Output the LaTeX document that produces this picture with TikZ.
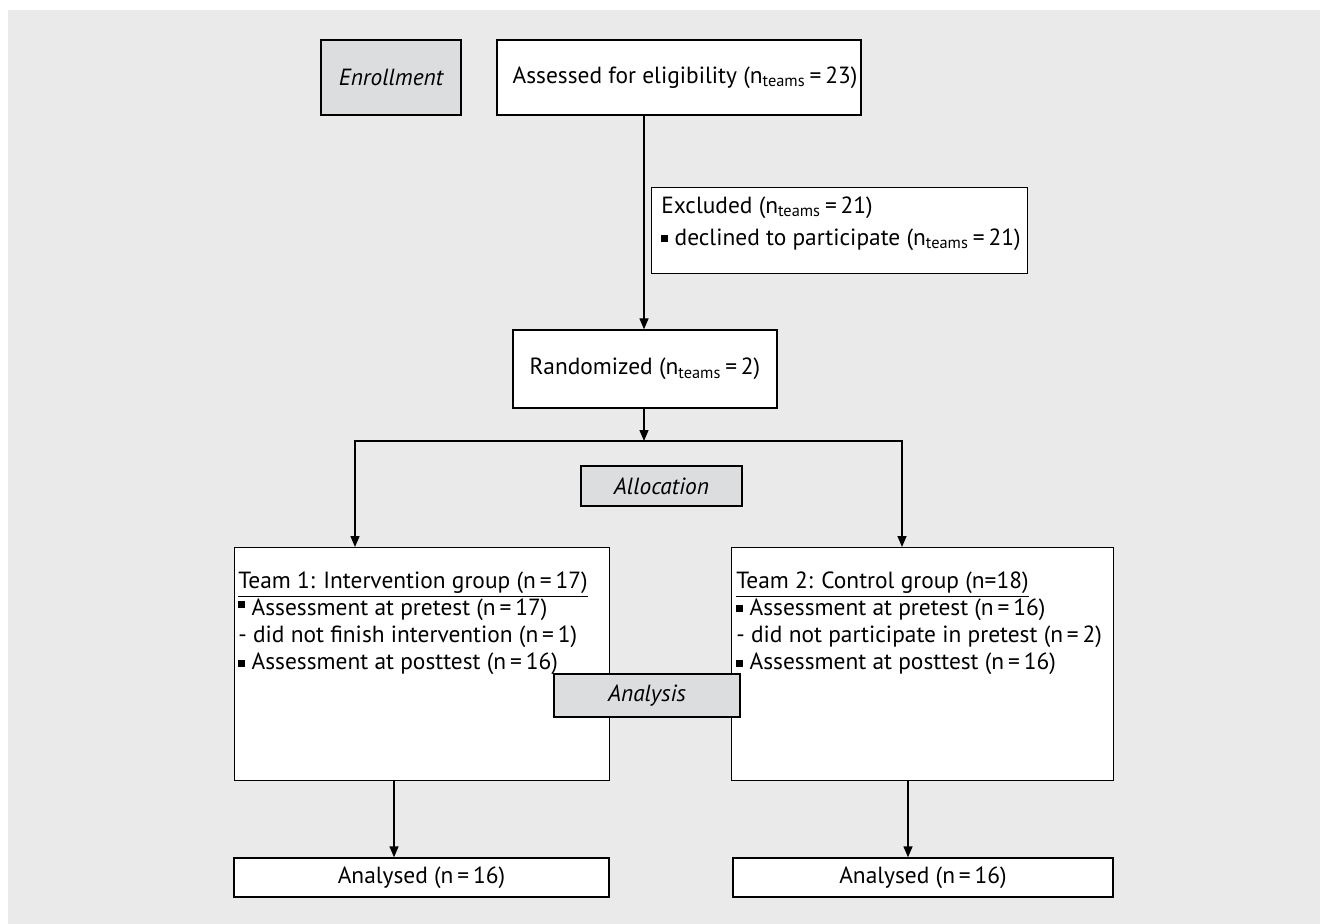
\documentclass[tikz,border=0pt]{standalone}
\usepackage{fontspec}
\setmainfont{PT Sans}
\usetikzlibrary{arrows.meta}

\definecolor{bggrey}{RGB}{234,234,234}
\definecolor{tagfill}{RGB}{220,221,223}

\newcommand{\nt}{n\textsubscript{teams}}
\newcommand{\sqb}{\rule[0.25ex]{0.3em}{0.3em}}
\newcommand{\sqbhi}{\rule[0.65ex]{0.3em}{0.3em}}
\newcommand{\flowfont}{\fontsize{11.7}{13.6}\selectfont}

\tikzset{
  box/.style={draw, line width=0.7pt, fill=white, inner sep=0pt},
  tagbox/.style={box, fill=tagfill, font=\flowfont\itshape},
  txt/.style={inner sep=0pt, align=left, anchor=north west},
  arr/.style={-{Triangle[width=4.5pt,length=5.5pt]}, line width=0.7pt},
}

\begin{document}
\begin{tikzpicture}[x=0.5pt,y=-0.5pt,font=\flowfont]
\useasboundingbox (0,0) rectangle (1320,924);
\fill[bggrey] (8,10) rectangle (1320,924);

% enrollment row
\node[tagbox, minimum width=70pt, minimum height=37.5pt] (enrol) at (391,77.5) {Enrollment};
\node[box, minimum width=182pt, minimum height=37.5pt] (assess) at (679,77.5) {\hspace{6pt}Assessed for eligibility (\nt\,=\,23)};

% excluded
\node[box, minimum width=188pt, minimum height=43pt, anchor=north west] (excl) at (651,187) {};
\node[txt] (excltxt) at (661,196) {Excluded (\nt\,=\,21)\\[2.5pt] \sqb\ declined to participate (\nt\,=\,21)};

% randomized + allocation
\node[box, minimum width=132pt, minimum height=39pt] (rand) at (645,369) {Randomized (\nt\,=\,2)};
\coordinate (split) at (644,441);
\coordinate (lft) at (355,441);
\coordinate (rgt) at (902,441);
\node[tagbox, minimum width=80.5pt, minimum height=20pt] (alloc) at (661.5,486) {Allocation};

% groups
\node[box, minimum width=187.5pt, minimum height=116.5pt, anchor=north west] (team1) at (234,547) {};
\node[box, minimum width=191pt, minimum height=116.5pt, anchor=north west] (team2) at (731,547) {};
\node[txt] (t1txt) at (238,571) {\underline{Team 1: Intervention group (n\,=\,17)}\\
  \sqbhi\ Assessment at pretest (n\,=\,17)\\
  - did not finish intervention (n\,=\,1)\\
  \sqb\ Assessment at posttest (n\,=\,16)};
\node[txt] (t2txt) at (736,571) {\underline{Team 2: Control group (n=18)}\\
  \sqb\ Assessment at pretest (n\,=\,16)\\
  - did not participate in pretest (n\,=\,2)\\
  \sqb\ Assessment at posttest (n\,=\,16)};
\node[tagbox, minimum width=93pt, minimum height=21.5pt] (anal) at (647,695.5) {Analysis};

% analysed
\node[box, minimum width=187.5pt, minimum height=19.5pt] (an1) at (421.5,877.5) {Analysed (n\,=\,16)};
\node[box, minimum width=190pt, minimum height=19.5pt] (an2) at (923,877.5) {Analysed (n\,=\,16)};
\coordinate (dl) at (394,0);
\coordinate (dr) at (908,0);

% connectors
\draw[arr] (assess.south -| split) -- (rand.north -| split);
\draw[arr] (rand.south -| split) -- (split);
\draw[arr] (split) -| (team1.north -| lft);
\draw[arr] (split) -| (team2.north -| rgt);
\draw[arr] (team1.south -| dl) -- (an1.north -| dl);
\draw[arr] (team2.south -| dr) -- (an2.north -| dr);

\end{tikzpicture}
\end{document}
